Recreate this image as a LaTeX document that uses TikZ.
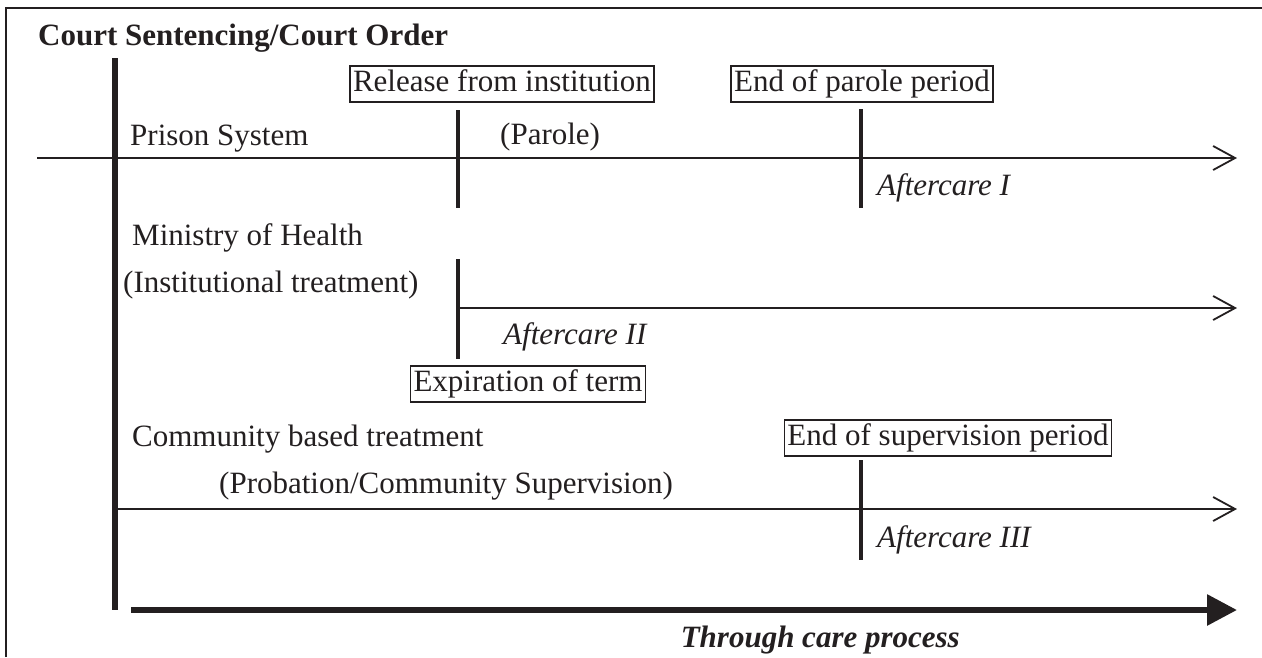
\documentclass[tikz,border=0pt]{standalone}
\usepackage{fontspec}
\setmainfont{Liberation Serif}
\usetikzlibrary{arrows.meta}
\definecolor{ink}{RGB}{35,31,32}
\begin{document}
\begin{tikzpicture}[x=1pt,y=-1pt,
  every node/.style={text=ink,inner sep=0pt,font=\fontsize{31}{37}\selectfont},
  lbl/.style={anchor=base west},
  evbox/.style={draw=ink,line width=1.8pt,inner xsep=3pt,inner ysep=3.5pt,text height=22pt,text depth=7pt},
  frame/.style={draw=ink,line width=2pt},
  spine/.style={draw=ink,line width=6pt},
  tick/.style={draw=ink,line width=3.5pt},
  track/.style={draw=ink,line width=1.8pt,-{Straight Barb[length=22pt,width=24pt,line width=1.8pt]}},
  process/.style={draw=ink,line width=6pt,-{Triangle[length=30pt,width=30pt]}}]
\useasboundingbox (0,0) rectangle (1262,657);
% frame (open at right and bottom)
\coordinate (fb) at (6,657);
\coordinate (fc) at (6,8);
\coordinate (fr) at (1262,8);
\path[frame] (fb) -- (fc) -- (fr);
% title
\node[lbl,font=\fontsize{31}{37}\selectfont\bfseries] (title) at (38,45) {Court Sentencing/Court Order};
% main spine
\coordinate (spTop) at (115,58);
\coordinate (spBot) at (115,610);
\path[spine] (spTop) -- (spBot);
% prison system row
\node[lbl] (prison) at (130,145) {Prison System};
\node[evbox] (release) at (502,84) {Release from institution};
\node[evbox] (endparole) at (862,84) {End of parole period};
\coordinate (rT) at (458,110);
\coordinate (rB) at (458,208);
\coordinate (eT) at (861,109);
\coordinate (eB) at (861,208);
\path[tick] (rT) -- (rB);
\path[tick] (eT) -- (eB);
\node[lbl] (parole) at (500,144) {(Parole)};
\coordinate (pS) at (37,158);
\coordinate (pE) at (1237,158);
\path[track] (pS) -- (pE);
\node[lbl,font=\fontsize{31}{37}\selectfont\itshape] (ac1) at (877,195) {Aftercare I};
% ministry of health row
\node[lbl] (moh) at (132,245) {Ministry of Health};
\node[lbl] (inst) at (123,292) {(Institutional treatment)};
\coordinate (mT) at (458,259);
\coordinate (mB) at (458,359);
\path[tick] (mT) -- (mB);
\coordinate (mS) at (458,308);
\coordinate (mE) at (1237,308);
\path[track] (mS) -- (mE);
\node[lbl,font=\fontsize{31}{37}\selectfont\itshape] (ac2) at (503,344) {Aftercare II};
\node[evbox] (expir) at (528,384) {Expiration of term};
% community row
\node[lbl] (comm) at (132,446) {Community based treatment};
\node[evbox] (endsup) at (948,438) {End of supervision period};
\node[lbl] (prob) at (219,493) {(Probation/Community Supervision)};
\coordinate (cT) at (861,460);
\coordinate (cB) at (861,560);
\path[tick] (cT) -- (cB);
\coordinate (cS) at (115,509);
\coordinate (cE) at (1237,509);
\path[track] (cS) -- (cE);
\node[lbl,font=\fontsize{31}{37}\selectfont\itshape] (ac3) at (877,547) {Aftercare III};
% through care process
\coordinate (tS) at (131,610);
\coordinate (tE) at (1237,610);
\path[process] (tS) -- (tE);
\node[anchor=base east,font=\fontsize{31}{37}\selectfont\bfseries\itshape] (tcp) at (960,647) {Through care process};
\end{tikzpicture}
\end{document}
